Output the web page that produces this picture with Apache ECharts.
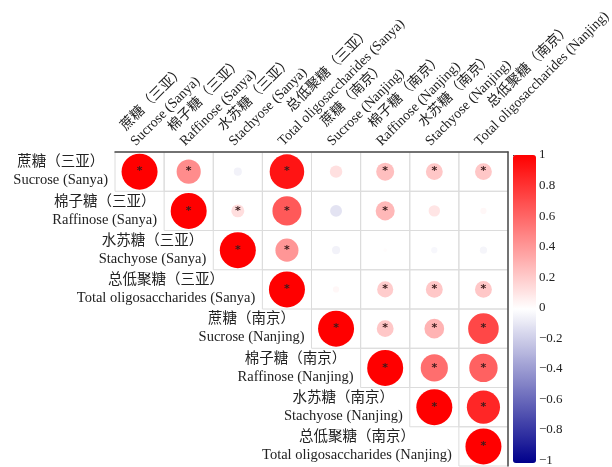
<!DOCTYPE html>
<html>
<head>
<meta charset="utf-8">
<script src="https://cdn.jsdelivr.net/npm/echarts@6/dist/echarts.min.js"></script>
<style>
  html, body { margin: 0; padding: 0; background: #ffffff; }
  #chart { width: 612px; height: 467px; }
</style>
</head>
<body>
<div id="chart"></div>
<script>
// Variable names, two lines each (Chinese / English)
const labelsCn = ['蔗糖（三亚）', '棉子糖（三亚）', '水苏糖（三亚）', '总低聚糖（三亚）',
                  '蔗糖（南京）', '棉子糖（南京）', '水苏糖（南京）', '总低聚糖（南京）'];
const labelsEn = ['Sucrose (Sanya)', 'Raffinose (Sanya)', 'Stachyose (Sanya)', 'Total oligosaccharides (Sanya)',
                  'Sucrose (Nanjing)', 'Raffinose (Nanjing)', 'Stachyose (Nanjing)', 'Total oligosaccharides (Nanjing)'];

// Upper triangle of the correlation matrix; row i starts at column i
const corrRow0 = [1, 0.45, -0.05, 0.92, 0.12, 0.25, 0.22, 0.22];
const corrRow1 = [1, 0.13, 0.65, -0.11, 0.28, 0.1, 0.03];
const corrRow2 = [1, 0.41, -0.05, 0.01, -0.03, -0.04];
const corrRow3 = [1, 0.03, 0.2, 0.22, 0.22];
const corrRow4 = [1, 0.22, 0.3, 0.72];
const corrRow5 = [1, 0.57, 0.62];
const corrRow6 = [1, 0.85];
const corrRow7 = [1];

// Significance flags (1 = marked with *), same layout
const sigRow0 = [1, 1, 0, 1, 0, 1, 1, 1];
const sigRow1 = [1, 1, 1, 0, 1, 0, 0];
const sigRow2 = [1, 1, 0, 0, 0, 0];
const sigRow3 = [1, 0, 1, 1, 1];
const sigRow4 = [1, 1, 1, 1];
const sigRow5 = [1, 1, 1];
const sigRow6 = [1, 1];
const sigRow7 = [1];

const colorbarTicks = [-1, -0.8, -0.6, -0.4, -0.2, 0, 0.2, 0.4, 0.6, 0.8, 1];

const corrRows = [corrRow0, corrRow1, corrRow2, corrRow3, corrRow4, corrRow5, corrRow6, corrRow7];
const sigRows = [sigRow0, sigRow1, sigRow2, sigRow3, sigRow4, sigRow5, sigRow6, sigRow7];

const FONT = "'Liberation Serif', 'Noto Sans CJK SC', serif";
const ROW_FS = 14.5;
const COL_FS = 14;

const measureCtx = document.createElement('canvas').getContext('2d');
function textWidth(s, size) {
  measureCtx.font = size + 'px ' + FONT;
  return measureCtx.measureText(s).width;
}

// [col, row, r, sig]
const points = [];
const cells = [];
corrRows.forEach((row, i) => {
  row.forEach((r, k) => {
    const j = i + k;
    points.push([j, i, r, sigRows[i][k]]);
    cells.push([j, i]);
  });
});

const idx = labelsEn.map((_, i) => String(i));

const chart = echarts.init(document.getElementById('chart'), null, { renderer: 'canvas' });

chart.setOption({
  backgroundColor: '#ffffff',
  animation: false,
  grid: [
    { left: 115, top: 152, width: 393, height: 314 },
    { left: 513, top: 155, width: 23, height: 308 }
  ],
  xAxis: [
    {
      type: 'category', data: idx, gridIndex: 0, position: 'top', z: 10,
      axisLine: { show: true, lineStyle: { color: '#4a4a4a', width: 1.5 } },
      axisTick: { show: false }, axisLabel: { show: false }, splitLine: { show: false }
    },
    { type: 'value', gridIndex: 1, show: false, min: 0, max: 1 }
  ],
  yAxis: [
    {
      type: 'category', data: idx, gridIndex: 0, inverse: true, position: 'right', z: 10,
      axisLine: { show: true, lineStyle: { color: '#4a4a4a', width: 1.5 } },
      axisTick: { show: false }, axisLabel: { show: false }, splitLine: { show: false }
    },
    {
      type: 'value', gridIndex: 1, position: 'right', min: -1, max: 1, interval: 0.2,
      axisLine: { show: false },
      axisTick: { show: true, length: 3, lineStyle: { color: '#333', width: 1 } },
      axisLabel: {
        show: true, margin: 3, color: '#222', fontFamily: FONT, fontSize: 13,
        formatter: v => String(+v.toFixed(1)).replace('-', '\u2212')
      },
      splitLine: { show: false }
    }
  ],
  visualMap: {
    type: 'continuous',
    min: -1, max: 1,
    dimension: 2,
    seriesIndex: 1,
    calculable: false,
    hoverLink: false,
    left: 513, top: 155,
    padding: 0,
    itemWidth: 23, itemHeight: 308,
    text: null,
    inRange: { color: ['#00008B', '#ffffff', '#ff0000'] }
  },
  series: [
    {
      // cell borders of the upper triangle
      type: 'custom',
      coordinateSystem: 'cartesian2d',
      xAxisIndex: 0, yAxisIndex: 0,
      silent: true, z: 1,
      data: cells,
      renderItem: (params, api) => {
        const c = api.coord([api.value(0), api.value(1)]);
        const s = api.size([1, 1]);
        return {
          type: 'rect',
          shape: { x: c[0] - s[0] / 2, y: c[1] - s[1] / 2, width: s[0], height: s[1] },
          style: { fill: 'none', stroke: '#dcdcdc', lineWidth: 1 }
        };
      }
    },
    {
      // correlation circles: area proportional to |r|
      type: 'scatter',
      xAxisIndex: 0, yAxisIndex: 0,
      z: 3,
      data: points,
      symbol: 'circle',
      symbolSize: v => 36 * Math.sqrt(Math.abs(v[2])),
      itemStyle: { opacity: 1 },
      label: {
        show: true,
        position: 'inside',
        formatter: p => (p.value[3] ? '*' : ''),
        color: '#3a1c1c',
        fontSize: 11,
        fontFamily: 'DejaVu Sans',
        fontWeight: 'bold'
      }
    },
    {
      // row and column names
      type: 'custom',
      coordinateSystem: 'cartesian2d',
      xAxisIndex: 0, yAxisIndex: 0,
      silent: true, clip: false, z: 5,
      data: labelsEn.map((_, i) => [i, i]),
      renderItem: (params, api) => {
        const i = api.value(0);
        const c = api.coord([i, i]);
        const s = api.size([1, 1]);
        const cn = labelsCn[i], en = labelsEn[i];

        // row label, block right-aligned to the first cell of the row
        const rowW = Math.max(textWidth(cn, ROW_FS), textWidth(en, ROW_FS));
        const cellLeft = c[0] - s[0] / 2;
        const rx = cellLeft - 7 - rowW / 2;

        // column label, rotated 45 degrees above the grid
        const gridTop = api.coord([i, 0])[1] - s[1] / 2;
        const colW = Math.max(textWidth(cn, COL_FS), textWidth(en, COL_FS));
        const ax = c[0], ay = gridTop - 2;

        return {
          type: 'group',
          children: [
            {
              type: 'text',
              style: {
                text: cn + '\n' + en,
                x: rx, y: c[1],
                align: 'center', verticalAlign: 'middle',
                lineHeight: 18,
                font: ROW_FS + 'px ' + FONT,
                fill: '#222'
              }
            },
            {
              type: 'text',
              originX: ax, originY: ay,
              rotation: Math.PI / 4,
              style: {
                text: cn + '\n' + en,
                x: ax + colW / 2, y: ay,
                align: 'center', verticalAlign: 'bottom',
                lineHeight: 18,
                font: COL_FS + 'px ' + FONT,
                fill: '#222'
              }
            }
          ]
        };
      }
    }
  ]
});
</script>
</body>
</html>
